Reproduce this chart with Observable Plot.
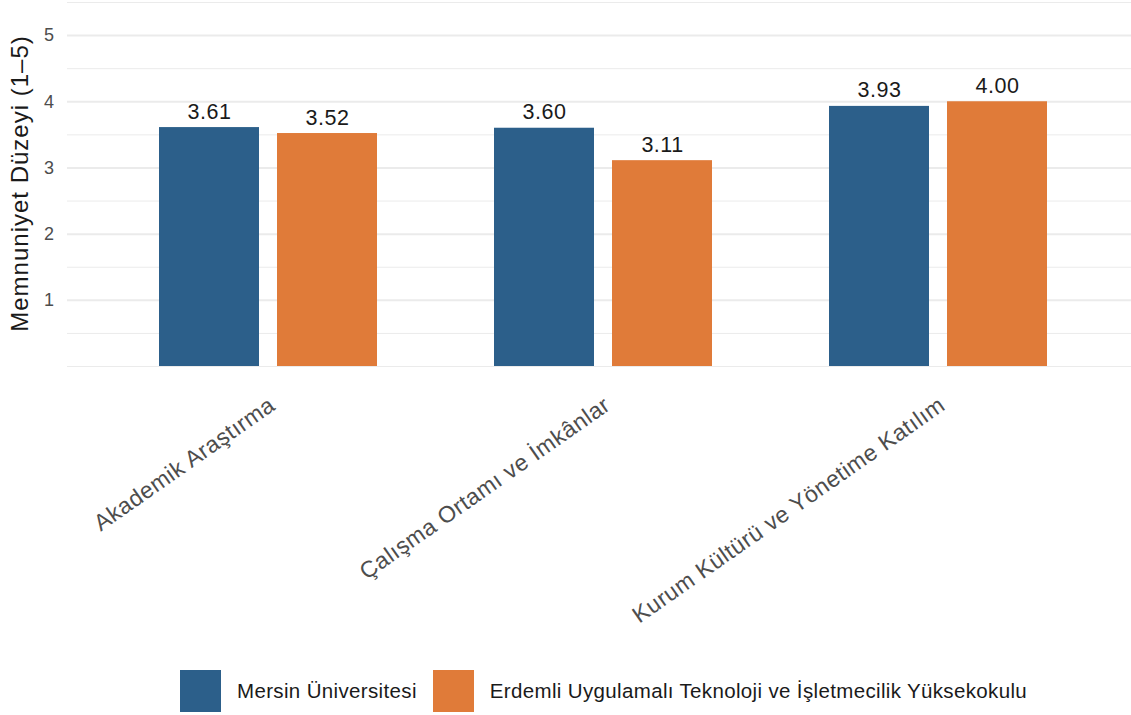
<!DOCTYPE html>
<html>
<head>
<meta charset="utf-8">
<script src="https://cdn.jsdelivr.net/npm/d3@7"></script>
<script src="https://cdn.jsdelivr.net/npm/@observablehq/plot@0.6"></script>
<style>
  html, body { margin: 0; padding: 0; background: #fff; }
  #wrap { position: relative; width: 1131px; height: 715px; font-family: "Liberation Sans", Arial, sans-serif; }
  #legend { position: absolute; left: 180px; top: 670px; display: flex; align-items: center; font-size: 20.5px; letter-spacing: 0.35px; color: #1a1a1a; }
  .sw { width: 41px; height: 42px; display: inline-block; }
  .lab { margin-left: 16px; margin-right: 16px; }
  svg text { letter-spacing: 0.5px; }
  .ytitle text { letter-spacing: 1px; }
</style>
</head>
<body>
<div id="wrap"></div>
<script>
const categories = ["Akademik Araştırma", "Çalışma Ortamı ve İmkânlar", "Kurum Kültürü ve Yönetime Katılım"];
const seriesNames = ["Mersin Üniversitesi", "Erdemli Uygulamalı Teknoloji ve İşletmecilik Yüksekokulu"];
const mersinValues = [3.61, 3.60, 3.93];
const erdemliValues = [3.52, 3.11, 4.00];
const seriesColors = ["#2c5f8a", "#e07b39"];
const yTicks = [1, 2, 3, 4, 5];
const yMinorTicks = [0, 0.5, 1.5, 2.5, 3.5, 4.5, 5.5];
const yTitle = "Memnuniyet Düzeyi (1–5)";

const mersin = categories.map((c, i) => ({category: c, group: seriesNames[0], value: mersinValues[i]}));
const erdemli = categories.map((c, i) => ({category: c, group: seriesNames[1], value: erdemliValues[i]}));

const plot = Plot.plot({
  width: 1131,
  height: 645,
  marginLeft: 67,
  marginRight: 0,
  marginTop: 0,
  marginBottom: 279,
  style: {fontFamily: "'Liberation Sans', Arial, sans-serif", background: "#fff"},
  x: {domain: categories, paddingInner: 0.35, paddingOuter: 0.263, align: 0.523, label: null},
  y: {domain: [0, 5.53], label: null},
  color: {domain: seriesNames, range: seriesColors},
  marks: [
    Plot.ruleY(yMinorTicks, {stroke: "#ebebeb", strokeWidth: 1}),
    Plot.ruleY(yTicks, {stroke: "#ebebeb", strokeWidth: 2}),
    Plot.barY(mersin, {x: "category", y: "value", fill: "group", insetRight: 118}),
    Plot.barY(erdemli, {x: "category", y: "value", fill: "group", insetLeft: 118}),
    Plot.text(mersin, {x: "category", y: "value", text: d => d.value.toFixed(2), dx: -59, dy: -9, lineAnchor: "bottom", fontSize: 21.5, fill: "#1a1a1a"}),
    Plot.text(erdemli, {x: "category", y: "value", text: d => d.value.toFixed(2), dx: 59, dy: -9, lineAnchor: "bottom", fontSize: 21.5, fill: "#1a1a1a"}),
    Plot.axisY(yTicks, {tickSize: 0, tickPadding: 13, fontSize: 18, fill: "#4d4d4d", label: null, tickFormat: d => String(d)}),
    Plot.axisX({tickSize: 0, tickPadding: 36, tickRotate: -35, dx: 4, fontSize: 23, fill: "#4d4d4d", label: null}),
    Plot.text([yTitle], {frameAnchor: "left", textAnchor: "middle", rotate: -90, dx: -47, fontSize: 24, fill: "#1a1a1a", className: "ytitle"})
  ]
});

const wrap = document.getElementById("wrap");
wrap.appendChild(plot);

const legend = document.createElement("div");
legend.id = "legend";
const colorScale = plot.scale("color");
seriesNames.forEach((name, i) => {
  const sw = document.createElement("span");
  sw.className = "sw";
  sw.style.background = colorScale.range[i];
  const lab = document.createElement("span");
  lab.className = "lab";
  lab.textContent = name;
  legend.appendChild(sw);
  legend.appendChild(lab);
});
wrap.appendChild(legend);
</script>
</body>
</html>
